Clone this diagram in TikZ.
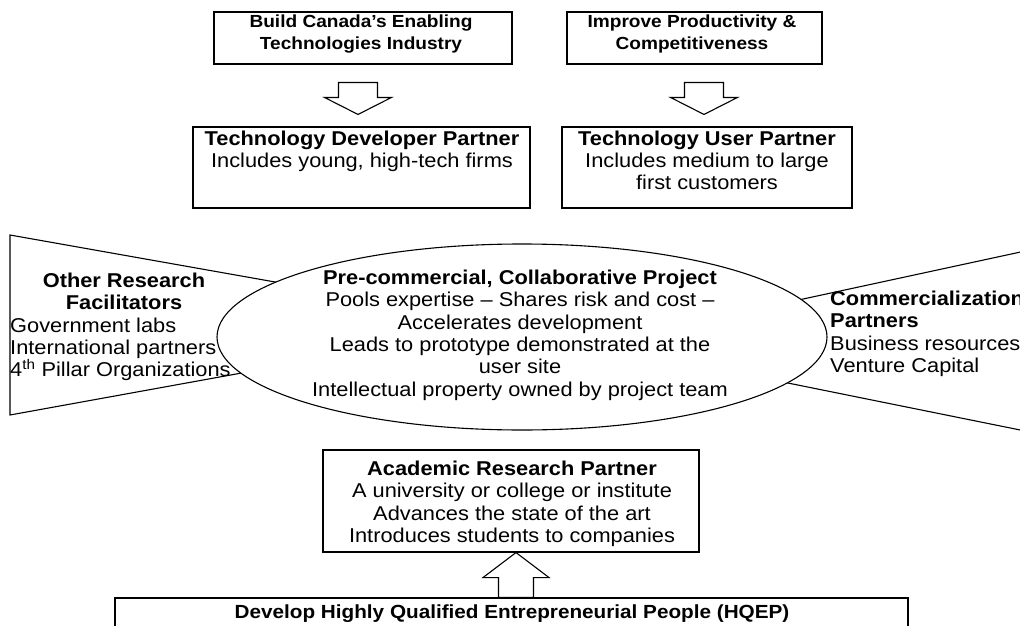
\documentclass[tikz,border=0pt]{standalone}
\usepackage{fontspec}
\setmainfont{Liberation Sans}[FakeStretch=1.09]
\usetikzlibrary{calc}

% font sizes used in the chart
\newcommand\fsTop{\fontsize{17.5}{22}\selectfont}
\newcommand\fsMain{\fontsize{20}{22.3}\selectfont}
\newcommand\fsFoot{\fontsize{19}{22}\selectfont}

% hollow block arrows: #1 shaft end, #2 tip, #3 shaft half width,
% #4 head half width, #5 head length
\newcommand\downblock[5]{%
  \draw[blockarrow] let \p1=#1, \p2=#2 in
    (\x1-#3,\y1) -- (\x1+#3,\y1) -- (\x1+#3,\y2+#5) -- (\x1+#4,\y2+#5)
    -- (\x1,\y2) -- (\x1-#4,\y2+#5) -- (\x1-#3,\y2+#5) -- cycle;}
\newcommand\upblock[5]{%
  \draw[blockarrow] let \p1=#1, \p2=#2 in
    (\x1-#3,\y1) -- (\x1+#3,\y1) -- (\x1+#3,\y2-#5) -- (\x1+#4,\y2-#5)
    -- (\x1,\y2) -- (\x1-#4,\y2-#5) -- (\x1-#3,\y2-#5) -- cycle;}

\begin{document}
\begin{tikzpicture}[x=1pt,y=-1pt,
  box/.style={draw=black,line width=1.1pt,fill=white,inner sep=0pt},
  txt/.style={inner sep=0pt,align=center,font=\fsMain},
  blockarrow/.style={draw=black,line width=1.1pt,fill=white,line join=miter},
  wing/.style={draw=black,line width=1.1pt,fill=white,line join=miter}]
\useasboundingbox (0,0) rectangle (1020,626);
\clip (0,0) rectangle (1020,626);

% goal boxes
\node[box,minimum width=298pt,minimum height=52pt] (top1) at (363,38) {};
\node[txt,font=\fsTop,anchor=north] (top1t) at (361,14.4)
  {\textbf{Build Canada’s Enabling}\\\textbf{Technologies Industry}};
\node[box,minimum width=255pt,minimum height=52pt] (top2) at (694.5,38) {};
\node[txt,font=\fsTop,anchor=north] (top2t) at (692,14.4)
  {\textbf{Improve Productivity \&}\\\textbf{Competitiveness}};

% industry partner boxes
\node[box,minimum width=337pt,minimum height=81pt] (dev) at (361.5,167.5) {};
\node[txt,anchor=north] (devt) at (362,130.5)
  {\textbf{Technology Developer Partner}\\Includes young, high-tech firms};
\node[box,minimum width=290pt,minimum height=81pt] (user) at (707,167.5) {};
\node[txt,anchor=north] (usert) at (707,130.5)
  {\textbf{Technology User Partner}\\Includes medium to large\\first customers};

% arrows from goals to partners
\downblock{([xshift=-5pt,yshift=-18pt]top1.south)}{([xshift=-3.5pt,yshift=12pt]dev.north)}{19.5pt}{33.5pt}{17pt}
\downblock{([xshift=9.5pt,yshift=-18pt]top2.south)}{([xshift=-3pt,yshift=12pt]user.north)}{19.5pt}{33.5pt}{17pt}

% side wings behind the central project
\draw[wing] (10,235) -- (512,324) -- (10,415) -- cycle;
\draw[wing] (1040,247.8) -- (595,344) -- (1040,434);

% central project ellipse
\draw[line width=1.1pt,fill=white] (522,337) ellipse [x radius=305, y radius=93];
\node[txt,anchor=north] (proj) at (520,270)
  {\textbf{Pre-commercial, Collaborative Project}\\
   Pools expertise – Shares risk and cost –\\
   Accelerates development\\
   Leads to prototype demonstrated at the\\
   user site\\
   Intellectual property owned by project team};

% wing texts
\node[txt,anchor=north] (orfh) at (124,273)
  {\textbf{Other Research}\\\textbf{Facilitators}};
\node[txt,align=left,anchor=north west] (orfl) at (10,317.5)
  {Government labs\\International partners\\4\textsuperscript{th} Pillar Organizations};
\node[txt,align=left,anchor=north west] (comm) at (830,291)
  {\textbf{Commercialization}\\\textbf{Partners}\\Business resources\\Venture Capital};

% academic partner and HQEP goal
\node[box,minimum width=376pt,minimum height=102pt] (acad) at (511,501) {};
\node[txt,anchor=north] (acadt) at (512,461)
  {\textbf{Academic Research Partner}\\
   A university or college or institute\\
   Advances the state of the art\\
   Introduces students to companies};
\node[box,minimum width=793pt,minimum height=60pt] (hqep) at (511.5,628) {};
\node[txt,font=\fsFoot,anchor=north] (hqept) at (512,604.5)
  {\textbf{Develop Highly Qualified Entrepreneurial People (HQEP)}};

\upblock{([xshift=4.5pt]hqep.north)}{([xshift=5pt]acad.south)}{17.5pt}{33pt}{25pt}
\end{tikzpicture}
\end{document}
